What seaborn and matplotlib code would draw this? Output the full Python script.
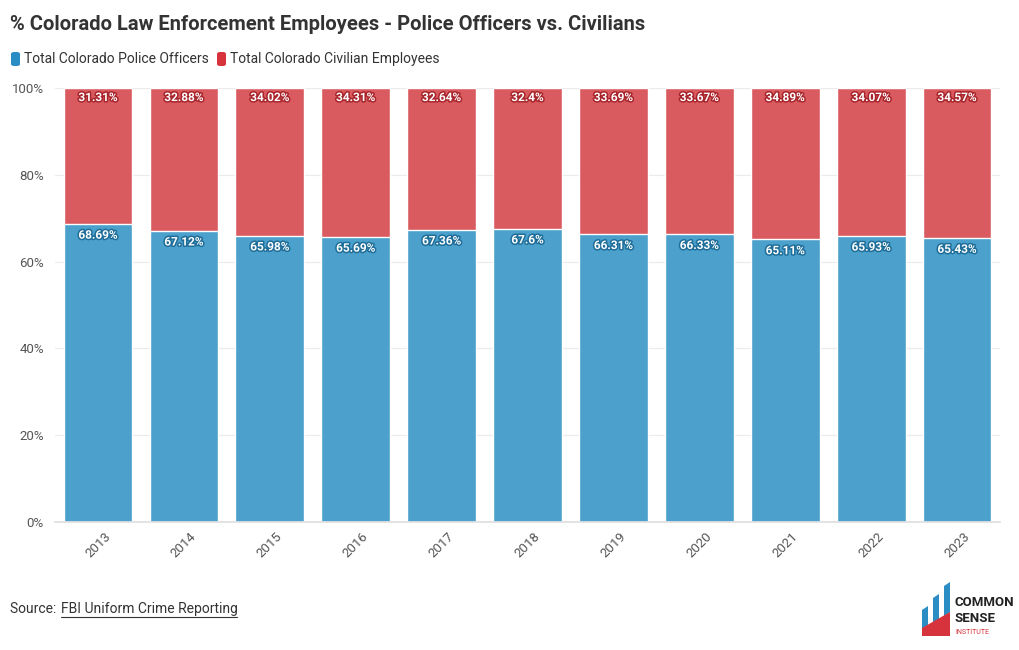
import matplotlib
matplotlib.use("Agg")
import matplotlib.pyplot as plt
import matplotlib.patheffects as pe
from matplotlib.patches import FancyBboxPatch, Polygon
from matplotlib.ticker import FuncFormatter
import seaborn as sns
import pandas as pd

years = ["2013", "2014", "2015", "2016", "2017", "2018", "2019", "2020", "2021", "2022", "2023"]
police = [68.69, 67.12, 65.98, 65.69, 67.36, 67.6, 66.31, 66.33, 65.11, 65.93, 65.43]
civilian = [31.31, 32.88, 34.02, 34.31, 32.64, 32.4, 33.69, 33.67, 34.89, 34.07, 34.57]
series_names = ["Total Colorado Police Officers", "Total Colorado Civilian Employees"]
y_ticks = [0, 20, 40, 60, 80, 100]

blue_bar = "#4BA1CC"
red_bar = "#D95B60"
blue_key = "#2A8EC4"
red_key = "#D7333C"
text_col = "#333333"

sns.set_theme(style="white")
plt.rcParams["font.family"] = ["Roboto", "DejaVu Sans"]

df = pd.DataFrame({"year": years, "police": police, "civilian": civilian})
df["total"] = df["police"] + df["civilian"]

fig = plt.figure(figsize=(10.2, 6.5), dpi=100)
ax = fig.add_axes([55 / 1020, 1 - 522 / 650, 945 / 1020, 434 / 650])

sns.barplot(data=df, x="year", y="total", color=red_bar, saturation=1, width=0.8,
            edgecolor="white", linewidth=1, ax=ax)
sns.barplot(data=df, x="year", y="police", color=blue_bar, saturation=1, width=0.8,
            edgecolor="white", linewidth=1, ax=ax)

ax.set_ylim(0, 100)
ax.set_xlim(-0.5, len(years) - 0.5)
ax.set_yticks(y_ticks)
ax.yaxis.set_major_formatter(FuncFormatter(lambda v, p: f"{v:.0f}%"))
ax.set_xlabel("")
ax.set_ylabel("")
ax.grid(axis="y", color="#EBEBEB", linewidth=0.8)
ax.set_axisbelow(True)
for s in ["top", "right", "left"]:
    ax.spines[s].set_visible(False)
ax.spines["bottom"].set_color("#E0E0E0")
ax.tick_params(axis="y", labelsize=9.5, labelcolor="#555555", length=0, pad=8)
ax.tick_params(axis="x", labelsize=9.5, labelcolor="#555555", length=0, pad=6)
plt.setp(ax.get_xticklabels(), rotation=45, ha="center", va="top")

def fmt(v):
    s = f"{v:.2f}".rstrip("0").rstrip(".")
    return s + "%"

for i in range(len(years)):
    t = ax.text(i, df["total"][i] - 2.2, fmt(civilian[i]), ha="center", va="center",
                color="white", fontsize=8.5, fontweight="bold")
    t.set_path_effects([pe.withStroke(linewidth=2.2, foreground="#A8252C")])
    t = ax.text(i, police[i] - 2.6, fmt(police[i]), ha="center", va="center",
                color="white", fontsize=8.5, fontweight="bold")
    t.set_path_effects([pe.withStroke(linewidth=2.2, foreground="#1F6E99")])

# Title
fig.text(10 / 1020, 1 - 25 / 650, "% Colorado Law Enforcement Employees - Police Officers vs. Civilians",
         fontsize=14.5, fontweight="bold", color=text_col, va="center", ha="left")

# Legend
def key(x, color):
    fig.patches.append(FancyBboxPatch((x / 1020, 1 - 66 / 650), 9 / 1020, 14 / 650,
                                      boxstyle="round,pad=0,rounding_size=0.003",
                                      transform=fig.transFigure, facecolor=color, edgecolor="none"))
key(11, blue_key)
fig.text(24 / 1020, 1 - 59 / 650, series_names[0], fontsize=10, color=text_col, va="center", ha="left")
key(217, red_key)
fig.text(230 / 1020, 1 - 59 / 650, series_names[1], fontsize=10, color=text_col, va="center", ha="left")

# Source
fig.text(10 / 1020, 1 - 609 / 650, "Source: ", fontsize=10, color=text_col, va="center", ha="left")
fig.text(61 / 1020, 1 - 609 / 650, "FBI Uniform Crime Reporting", fontsize=10, color=text_col,
         va="center", ha="left")
fig.add_artist(plt.Line2D([61 / 1020, 237 / 1020], [1 - 617 / 650, 1 - 617 / 650],
                          color=text_col, linewidth=0.8, transform=fig.transFigure))

# Logo
def fpoly(pts, color):
    fig.patches.append(Polygon([(x / 1020, 1 - y / 650) for x, y in pts], closed=True,
                               transform=fig.transFigure, facecolor=color, edgecolor="none"))
fpoly([(922, 610), (928, 606), (928, 626), (922, 630)], "#2A8EC4")
fpoly([(933, 598), (939, 594), (939, 620), (933, 624)], "#2A8EC4")
fpoly([(944, 586), (950, 582), (950, 612), (944, 616)], "#2A8EC4")
fpoly([(922, 636), (922, 628), (950, 612), (950, 636)], "#D7333C")
fig.text(955 / 1020, 1 - 602 / 650, "COMMON", fontsize=9.5, fontweight="bold", color="#222222",
         va="center", ha="left")
fig.text(955 / 1020, 1 - 619 / 650, "SENSE", fontsize=9.5, fontweight="bold", color="#222222",
         va="center", ha="left")
fig.text(955 / 1020, 1 - 632 / 650, "INSTITUTE", fontsize=5, color="#D7333C",
         va="center", ha="left")

fig.savefig("out.png", dpi=100, facecolor="white")
